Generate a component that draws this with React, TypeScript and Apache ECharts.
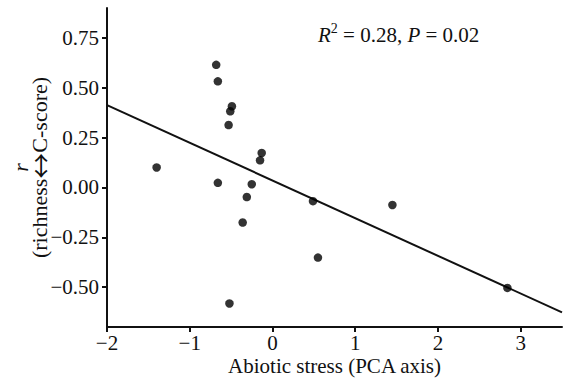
import React, { useEffect, useRef } from "react";
import * as echarts from "echarts";

const stressX = [-0.68, -0.66, -0.49, -0.51, -0.53, -0.13, -0.15, -0.66, -0.25, -1.40, -0.31, 0.49, 1.45, -0.36, 0.55, -0.52, 2.84];
const richnessR = [0.615, 0.532, 0.407, 0.382, 0.313, 0.173, 0.136, 0.023, 0.016, 0.10, -0.048, -0.069, -0.088, -0.176, -0.352, -0.582, -0.504];
const fitIntercept = 0.035;
const fitSlope = -0.189;
const fitRange = [-2, 3.5];
const xTicks = [-2, -1, 0, 1, 2, 3];
const yTicks = [-0.5, -0.25, 0, 0.25, 0.5, 0.75];

const FONT = "Liberation Serif";
const INK = "#111";
const FS = 21;

export default function App() {
  const ref = useRef<HTMLDivElement>(null);
  useEffect(() => {
    if (!ref.current) return;
    const chart = echarts.init(ref.current, undefined, { renderer: "svg" });
    const fitData = fitRange.map((x) => [x, fitIntercept + fitSlope * x]);
    chart.setOption({
      animation: false,
      textStyle: { fontFamily: FONT },
      grid: { left: 107, right: 2, top: 8, bottom: 52, containLabel: false, outerBoundsMode: "none" },
      xAxis: {
        type: "value",
        min: -2,
        max: 3.5,
        name: "Abiotic stress (PCA axis)",
        nameLocation: "middle",
        nameGap: 28,
        nameMoveOverlap: false,
        nameTextStyle: { fontFamily: FONT, fontSize: FS, color: INK },
        splitLine: { show: false },
        axisLine: { onZero: false, lineStyle: { color: INK, width: 2 } },
        axisTick: { show: true, length: 5, customValues: xTicks, lineStyle: { color: INK, width: 2 } },
        axisLabel: {
          customValues: xTicks,
          margin: 5,
          fontFamily: FONT,
          fontSize: FS,
          color: INK,
          formatter: (v: number) => String(v).replace("-", "\u2212"),
        },
      },
      yAxis: {
        type: "value",
        min: -0.7,
        max: 0.9,
        name: "{i|r}\n(richness{a|\u2194}C-score)",
        nameLocation: "middle",
        nameGap: 58,
        nameMoveOverlap: false,
        nameTextStyle: {
          fontFamily: FONT,
          fontSize: 22,
          color: INK,
          lineHeight: 19,
          align: "center",
          rich: {
            i: { fontStyle: "italic", fontFamily: FONT, fontSize: 22, color: INK, lineHeight: 19 },
            a: { fontFamily: "Noto Sans CJK SC", fontSize: 26, color: INK, lineHeight: 19 },
          },
        },
        splitLine: { show: false },
        axisLine: { onZero: false, lineStyle: { color: INK, width: 2 } },
        axisTick: { show: true, length: 5, customValues: yTicks, lineStyle: { color: INK, width: 2 } },
        axisLabel: {
          customValues: yTicks,
          margin: 8,
          fontFamily: FONT,
          fontSize: FS,
          color: INK,
          formatter: (v: number) => v.toFixed(2).replace("-", "\u2212"),
        },
      },
      graphic: [
        {
          type: "text",
          left: 318,
          top: 21,
          style: {
            text: "{i|R}{sup|2}{n| = 0.28, }{i|P}{n| = 0.02}",
            rich: {
              i: { fontStyle: "italic", fontFamily: FONT, fontSize: FS, fill: INK, verticalAlign: "bottom", lineHeight: 24 },
              n: { fontFamily: FONT, fontSize: FS, fill: INK, verticalAlign: "bottom", lineHeight: 24 },
              sup: { fontFamily: FONT, fontSize: 14, fill: INK, verticalAlign: "top", lineHeight: 12 },
            },
          },
        },
      ],
      series: [
        {
          type: "line",
          data: fitData,
          symbol: "none",
          lineStyle: { color: INK, width: 2 },
          z: 2,
        },
        {
          type: "scatter",
          data: stressX.map((x, i) => [x, richnessR[i]]),
          symbol: "circle",
          symbolSize: 8.5,
          itemStyle: { color: "#000" },
          z: 3,
        },
      ],
    });
    return () => chart.dispose();
  }, []);
  return <div ref={ref} style={{ width: 564, height: 379, position: "absolute", left: 0, top: 0 }} />;
}
